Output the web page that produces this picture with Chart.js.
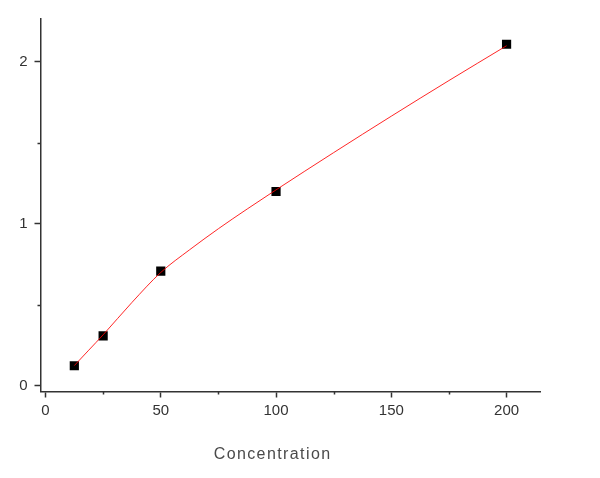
<!DOCTYPE html>
<html>
<head>
<meta charset="utf-8">
<script src="https://cdn.jsdelivr.net/npm/chart.js@4/dist/chart.umd.min.js"></script>
<style>
html,body{margin:0;padding:0;background:#fff;}
#wrap{width:600px;height:478px;position:relative;}
</style>
</head>
<body>
<div id="wrap"><canvas id="c" width="600" height="478"></canvas></div>
<script>
// Measured standards
const concentrations = [12.5, 25, 50, 100, 200];
const absorbance = [0.124, 0.308, 0.708, 1.20, 2.109];
// Fitted curve
const fitX = [12.5, 18.75, 25, 37.5, 50, 62.5, 75, 87.5, 100, 125, 150, 175, 200];
const fitY = [0.125, 0.22, 0.315, 0.515, 0.70, 0.84, 0.97, 1.092, 1.21, 1.44, 1.665, 1.885, 2.10];
// Tick labels
const xTicks = [0, 50, 100, 150, 200];
const xMinorTicks = [25, 75, 125, 175];
const yTicks = [0, 1, 2];
const yMinorTicks = [0.5, 1.5];
const xTitle = 'Concentration';

const AXIS = '#333333';

const minorTicksPlugin = {
  id: 'minorTicks',
  afterDraw(chart) {
    const ctx = chart.ctx;
    const xs = chart.scales.x, ys = chart.scales.y;
    const a = chart.chartArea;
    ctx.save();
    ctx.strokeStyle = AXIS;
    ctx.lineWidth = 1.5;
    ctx.beginPath();
    xMinorTicks.forEach(v => {
      const px = Math.round(xs.getPixelForValue(v)) + 0.5;
      ctx.moveTo(px, a.bottom);
      ctx.lineTo(px, a.bottom + 3);
    });
    yMinorTicks.forEach(v => {
      const py = Math.round(ys.getPixelForValue(v)) + 0.5;
      ctx.moveTo(a.left, py);
      ctx.lineTo(a.left - 3, py);
    });
    ctx.stroke();
    // axis title
    ctx.fillStyle = '#4a4a4a';
    ctx.font = '16px "Liberation Sans", Arial, sans-serif';
    try { ctx.letterSpacing = '1.4px'; } catch (e) {}
    ctx.textAlign = 'center';
    ctx.textBaseline = 'middle';
    ctx.fillText(xTitle, xs.getPixelForValue(98.5), 455);
    ctx.restore();
  }
};

new Chart(document.getElementById('c'), {
  type: 'scatter',
  data: {
    datasets: [
      {
        type: 'line',
        data: fitX.map((x, i) => ({x, y: fitY[i]})),
        borderColor: 'rgba(255,0,0,0.85)',
        borderWidth: 1,
        pointRadius: 0,
        fill: false,
        cubicInterpolationMode: 'monotone'
      },
      {
        data: concentrations.map((x, i) => ({x, y: absorbance[i]})),
        pointStyle: 'rect',
        pointRadius: 6.5,
        backgroundColor: '#000',
        borderColor: '#000',
        borderWidth: 0
      }
    ]
  },
  plugins: [minorTicksPlugin],
  options: {
    responsive: false,
    animation: false,
    events: [],
    layout: { padding: { left: 0, right: 60, top: 19, bottom: 0 } },
    plugins: { legend: { display: false }, tooltip: { enabled: false } },
    scales: {
      x: {
        type: 'linear',
        min: -2.17,
        max: 214.5,
        afterBuildTicks: s => { s.ticks = xTicks.map(v => ({value: v})); },
        afterFit: s => { s.height = 86.5; },
        border: { display: true, color: AXIS, width: 1.5 },
        grid: { display: true, drawOnChartArea: false, drawTicks: true, tickLength: 6, tickColor: AXIS, tickWidth: 1.5 },
        ticks: { color: '#333', padding: 4, font: { family: '"Liberation Sans", Arial, sans-serif', size: 15 }, maxRotation: 0 }
      },
      y: {
        type: 'linear',
        min: -0.035,
        max: 2.265,
        afterBuildTicks: s => { s.ticks = yTicks.map(v => ({value: v})); },
        afterFit: s => { s.width = 40.5; },
        border: { display: true, color: AXIS, width: 1.5 },
        grid: { display: true, drawOnChartArea: false, drawTicks: true, tickLength: 6, tickColor: AXIS, tickWidth: 1.5 },
        ticks: { color: '#333', padding: 7, font: { family: '"Liberation Sans", Arial, sans-serif', size: 15 } }
      }
    }
  }
});
</script>
</body>
</html>
